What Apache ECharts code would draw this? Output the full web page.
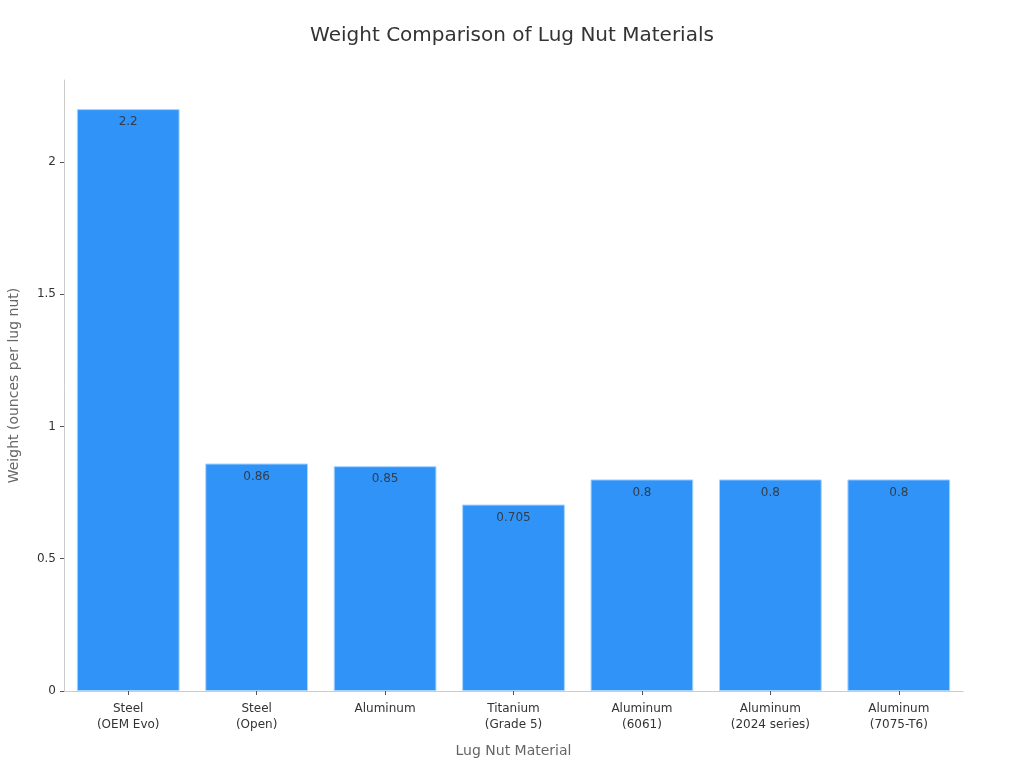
<!DOCTYPE html>
<html>
<head>
    <meta charset="utf-8">
    <title>Weight Comparison of Lug Nut Materials</title>
    <script src="https://cdn.jsdelivr.net/npm/echarts@6/dist/echarts.min.js"></script>
    <style>
        html, body { height: 100%; margin: 0; padding: 0; background: #fff; }
    </style>
</head>
<body>
<div id="chart-box" style="width:1024px; height:768px;"></div>
<script type="text/javascript">
    const materials = ["Steel\n(OEM Evo)", "Steel\n(Open)", "Aluminum", "Titanium\n(Grade 5)", "Aluminum\n(6061)", "Aluminum\n(2024 series)", "Aluminum\n(7075-T6)"];
    const weights = [2.2, 0.86, 0.85, 0.705, 0.8, 0.8, 0.8];
    const yTicks = [0, 0.5, 1, 1.5, 2];

    const font = "DejaVu Sans";
    const chart = echarts.init(document.getElementById("chart-box"));
    chart.setOption({
        animation: false,
        textStyle: { fontFamily: font },
        title: {
            text: "Weight Comparison of Lug Nut Materials",
            left: "center",
            top: 21,
            textStyle: { fontSize: 20, fontWeight: "normal", color: "#333", fontFamily: font }
        },
        grid: { left: 64, right: 61, top: 80, bottom: 77, outerBoundsMode: "none" },
        xAxis: {
            type: "category",
            data: materials,
            name: "Lug Nut Material",
            nameLocation: "middle",
            nameGap: 53,
            nameTextStyle: { fontSize: 14, color: "#666", fontFamily: font },
            axisLine: { lineStyle: { color: "#ccc" } },
            axisTick: { show: true, alignWithLabel: true, length: 4, lineStyle: { color: "#555" } },
            axisLabel: { fontSize: 12, color: "#333", lineHeight: 16, margin: 10, interval: 0 }
        },
        yAxis: {
            type: "value",
            min: 0,
            max: 2.31,
            interval: 0.5,
            name: "Weight (ounces per lug nut)",
            nameLocation: "middle",
            nameGap: 43,
            nameTextStyle: { fontSize: 14, color: "#666", fontFamily: font },
            axisLine: { show: true, lineStyle: { color: "#ccc" } },
            axisTick: { show: true, length: 4, customValues: yTicks, lineStyle: { color: "#555" } },
            splitLine: { show: false },
            axisLabel: {
                fontSize: 12, color: "#333", margin: 8,
                customValues: yTicks
            }
        },
        series: [{
            type: "bar",
            data: weights,
            barWidth: "80%",
            itemStyle: { color: "#2f93f8", borderColor: "#a8d4ff", borderWidth: 1 },
            label: {
                show: true,
                position: "insideTop",
                distance: 7,
                color: "#333d4b",
                fontSize: 12
            }
        }]
    });
</script>
</body>
</html>
